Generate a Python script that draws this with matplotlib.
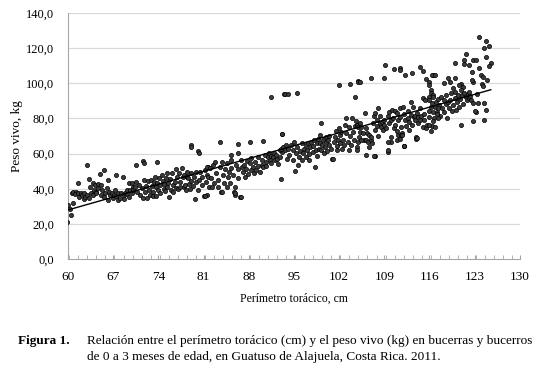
import numpy as np
import matplotlib
matplotlib.use("Agg")
import matplotlib.pyplot as plt
from matplotlib.ticker import MultipleLocator

# ---------------- data ----------------
x_a = [59.8, 60, 60.3, 60.5, 60.8, 60.6, 60.8, 61.2, 61.1, 61.5, 61.6, 61.7, 62, 62.2, 62.4, 62.5,
       62.6, 62.9, 62.9, 63.2, 63.3, 63.4, 63.6, 63.8, 63.9, 64.1, 64.2, 64.3, 64.4, 64.6, 64.7, 65,
       65.1, 65.1, 65.2, 65.5, 65.6, 65.7, 66, 66.2, 66.2, 66.3, 66.5, 66.8, 67, 67.2, 67.3, 67.4,
       67.5, 67.7, 67.8, 68.1, 68.2, 68.5, 68.6, 68.7, 68.8, 69.1, 69.2, 69.4, 69.5, 69.6, 69.9, 70.1]
y_a = [21.2, 31, 28.4, 25, 32, 37.3, 37.9, 38.3, 36.8, 43, 37.3, 35.4, 37.7, 36.4, 33.9, 37.3,
       35.4, 53.5, 36.4, 35, 45.3, 41.1, 37.7, 43.4, 36.4, 39.2, 42.1, 38.3, 37.3, 40.2, 42.7, 48.2,
       42.1, 36.4, 39.2, 35.4, 50.6, 37.3, 40.2, 44.9, 33.5, 38.3, 36.4, 37.7, 34.5, 36.4, 39.2, 47.8,
       35.8, 33.5, 37.3, 35, 37.7, 46.8, 36.4, 33.9, 37.3, 39.2, 36.9, 43, 35.4, 39.2, 37.3, 41.1]

x_b = [70.6, 71.6, 71.7, 73.8, 79, 79.1, 80.2, 80.3, 69.9, 70.1, 70.4, 70.6, 70.7, 71, 71.1, 71.4,
       71.6, 71.8, 71.9, 72.1, 72.2, 72.4, 72.6, 72.7, 72.8, 73, 73.1, 73.2, 73.3, 73.5, 73.6, 73.7,
       73.8, 74, 74.1, 74.2, 74.3, 74.5, 74.7, 74.8, 74.9, 75, 75.2, 75.3, 75.4, 75.5, 75.7, 75.8,
       75.9, 76.1, 76.2, 76.3, 76.6, 76.7, 76.8, 76.9, 77.1, 77.2, 77.3, 77.4, 77.6, 77.8, 77.9, 78,
       78.1, 78.3, 78.4, 78.5, 78.6, 78.8, 78.9, 79, 79.1, 79.3, 79.5, 79.7, 79.8, 79.9, 80.2, 80.3,
       80.5, 80.7, 80.8, 81.1, 81.2, 81.4, 81.5, 81.7, 81.9]
y_b = [53.5, 56, 54.4, 55, 64.9, 63.5, 61.6, 60.5, 43, 39.3, 41.2, 44, 38.3, 42.1, 36.4, 40.2,
       34.5, 45, 38.3, 41.5, 34.5, 44.6, 39.3, 36.4, 45, 41.5, 38.3, 35.8, 44, 46.9, 40.8, 35.8,
       43.4, 39.3, 45.9, 42.1, 37.7, 47.8, 44.6, 39.6, 42.7, 38.9, 45.9, 40.8, 48.7, 43, 35.1, 45.3,
       39.3, 48.7, 42.1, 38.3, 44, 40.2, 51, 46.9, 39.6, 49.1, 44, 40.8, 51.6, 46.9, 40.8, 47.8,
       42.1, 39.3, 46.9, 49.7, 45.9, 42.7, 39.6, 48.7, 44.6, 41.5, 46.9, 34, 44, 49.7, 39.3, 45,
       49.7, 42.1, 46.9, 35.8, 50.6, 44, 47.8, 52.5, 40.8]

x_c = [91.4, 93.5, 83.5, 86.4, 88.2, 90.2, 93.2, 85.3, 86.3, 81.5, 81.5, 81.7, 82, 82.2, 82.3, 82.5,
       82.6, 82.7, 83, 83.2, 83.3, 83.5, 83.7, 83.8, 84, 84.2, 84.3, 84.6, 84.7, 84.8, 84.9, 85.1,
       85.2, 85.3, 85.6, 85.7, 85.8, 85.9, 86.1, 86.3, 86.4, 86.6, 86.8, 86.9, 87.1, 87.3, 87.4, 87.6,
       87.8, 87.9, 88.2, 88.3, 88.4, 88.7, 88.8, 88.9, 89.2, 89.4, 89.5, 89.7, 90, 90.1, 90.2, 90.5,
       90.6, 90.7, 91, 91.1, 91.3, 91.4, 91.5, 91.8, 91.9, 92, 92.3, 92.4, 92.6, 92.8, 93, 93.1,
       81.2, 86.8, 83.8, 85.9]
y_c = [92.4, 93.9, 66.8, 65.3, 66.4, 67.2, 71.2, 59.2, 60.5, 52.6, 36.4, 46.9, 51.6, 45.9, 40.8, 53.5,
       43.1, 55.4, 49.1, 41.2, 45, 52.2, 38.3, 55.4, 47.8, 43.1, 51, 41.2, 54.5, 46.9, 49.7, 43.1,
       56.4, 51.6, 47.8, 38.3, 41.2, 36.4, 53.5, 45.9, 51, 35.1, 56.4, 52.2, 49.7, 53.5, 46.9, 51,
       56, 48.4, 54.5, 50.6, 57.3, 52.2, 48.8, 55.4, 50.6, 57.9, 52.9, 49.7, 56.4, 53.5, 52.2, 59.2,
       55.4, 52.9, 57.9, 60.2, 56.4, 58.6, 54.5, 57.9, 60.5, 56.4, 59.2, 56.7, 54.1, 58.3, 45.3, 61.1,
       36, 35.5, 38, 37.4]

x_d = [93.6, 94.1, 95.5, 102, 103.7, 104.9, 104.4, 99.2, 93.2, 92.8, 93, 93.3, 93.6, 93.7, 93.9, 94.1,
       94.3, 94.6, 94.8, 94.9, 95, 95.1, 95.3, 95.5, 95.6, 95.8, 96, 96.2, 96.3, 96.4, 96.5, 96.8,
       96.9, 97, 97.2, 97.3, 97.4, 97.5, 97.7, 97.9, 98, 98.1, 98.2, 98.4, 98.5, 98.6, 98.7, 98.9,
       99, 99.1, 99.2, 99.4, 99.5, 99.6, 99.8, 99.9, 100, 100.1, 100.3, 100.4, 100.5, 100.8, 100.9, 101.1,
       101.2, 101.3, 101.5, 101.6, 101.7, 101.8, 102, 102.1, 102.2, 102.3, 102.5, 102.6, 102.7, 102.9,
       103, 103.1, 103.4, 103.5, 103.6, 103.7, 103.9, 104, 104.2, 104.3, 104.4, 104.6, 104.7, 104.9,
       105.1, 107.5, 109.6, 110.1]
y_d = [94.2, 94.2, 94.6, 99, 99.9, 101.3, 92, 77.5, 71.1, 62, 62.9, 63.9, 62, 64.8, 57.2, 62.9,
       59.1, 64.8, 56.3, 62, 66.7, 50.2, 60.1, 63.9, 53.4, 58.2, 61.6, 65.8, 56.3, 60.1, 62.9, 64.8,
       58.2, 62, 66.2, 59.7, 56.3, 63.5, 66.7, 61, 64.2, 68, 52.5, 62, 65.8, 58.6, 68.6, 62.9,
       66.2, 70.5, 62, 64.8, 68, 60.1, 63.9, 69.6, 66.7, 61.6, 67.7, 64.8, 69.9, 62.4, 57.2, 57.2,
       66.7, 69.2, 73, 64.2, 62, 68, 74.3, 70.5, 65.8, 72.4, 62.4, 68, 64.8, 76.2,
       80, 71.5, 66.7, 62, 74.9, 70, 64.8, 80, 72.4, 68, 75.6, 78.7, 63.9, 76.2,
       69.2, 58.8, 61.1, 66.8]

x_e = [104.9, 105.3, 106.9, 108.9, 109.1, 110.5, 111.4, 111.5, 112.2, 113.3, 114.6, 115, 116.5, 115.5,
       116, 116.3, 116, 115, 115.3, 104.7, 104.9, 105.2, 105.3, 105.4, 105.7, 105.8, 106, 106.1, 106.2,
       106.4, 106.5, 106.6, 106.7, 106.9, 107, 107.1, 107.2, 107.4, 107.5, 107.6, 107.8, 107.9, 108,
       108.1, 108.3, 108.4, 108.5, 108.6, 108.8, 108.9, 109, 109.3, 109.5, 109.6, 109.7, 109.8, 110,
       110.1, 110.2, 110.3, 110.5, 110.6, 110.7, 110.9, 111, 111.1, 111.2, 111.4, 111.5, 111.6, 111.7,
       111.9, 112, 112.1, 112.2, 112.4, 112.6, 112.7, 112.8, 112.9, 113.1, 113.2, 113.3, 113.4, 113.6,
       113.7, 113.8, 113.9, 114.1, 114.2, 114.3, 114.5, 114.6, 114.7, 115, 115.1, 115.2, 115.5, 115.6,
       115.9, 116, 116.3, 116.4, 116.5, 116.7, 104.7, 104.9, 105.4, 106.2, 107.4, 109.6, 110.9, 111.4,
       111.6, 112.1, 113.9, 114, 112, 111.7]
y_e = [100.9, 100.9, 103.3, 103.3, 110.4, 107.9, 109, 107.5, 104.7, 106, 109.4, 107.1, 104.7, 102.2,
       100.9, 96.5, 92.3, 91.4, 90.4, 76.2, 74.9, 77.2, 72.4, 74.9, 71.5, 68, 83.2, 74.3, 67.7,
       71.8, 66.7, 70.5, 63.9, 68, 69.6, 65.8, 77.2, 81.3, 73.7, 82.9, 79.1, 75.6, 85.7,
       70, 77.2, 81.3, 74.9, 78.1, 73.4, 79.1, 76.2, 74.3, 81.3, 66.7, 77.5, 83.8, 79.1,
       69.6, 84.8, 80, 74.3, 84.4, 76.2, 73, 82.9, 79.1, 70.5, 85.7, 80.6, 75.3, 71.8,
       86.6, 64.3, 82.5, 79.1, 75.6, 84.4, 80, 73.4, 78.1, 89.5, 81.9, 76.2, 86.6, 80.6,
       81.3, 79.1, 69.6, 83.2, 80.6, 77.2, 85.7, 79.4, 81.3, 74.9, 79.1, 82.5, 74.3, 76.2,
       84.4, 81, 86.6, 75.6, 83.8, 80, 62, 66.7, 68, 59.1, 58.6, 62, 67.7, 68.6,
       70.5, 64.3, 68.6, 68.7, 64.3, 70.6]

x_f = [123.6, 124.8, 125.2, 124.4, 121.6, 121.3, 122.8, 123.2, 122.1, 119.9, 121.4, 123.7, 125.5, 125.2,
       124.7, 122.6, 124, 124.3, 124.9, 116.4, 116.9, 118.8, 120, 119.2, 118.3, 120.9, 121.2, 122.8,
       116, 116.3, 116.5, 116, 116.4, 116.6, 116.8, 117, 117.1, 117.3, 117.5, 117.7, 117.8, 118,
       118.2, 118.3, 118.5, 118.6, 118.7, 118.8, 119, 119.2, 119.4, 119.5, 119.6, 119.7, 119.9, 120,
       120.1, 120.2, 120.4, 120.5, 120.6, 120.7, 120.9, 121.1, 121.2, 121.4, 121.6, 121.8, 121.9, 122.1,
       122.2, 122.3, 122.4, 122.6, 122.7, 123.3, 123.5, 124.2, 124.3, 124.5, 124.7, 123.2, 116, 116.3,
       116.5, 116.8, 117.1, 117.4, 117.3, 120.9, 122.8, 123.1, 124.5]
y_f = [126.6, 124.1, 121.4, 119.9, 116.5, 113.3, 113.3, 113.3, 110.4, 111.4, 110.8, 108.9, 111.4, 110,
       115.2, 106.3, 104.7, 103.8, 101.9, 104.7, 104.7, 103.2, 102.8, 100.9, 100, 99.4, 98.1, 100.9,
       99, 94.3, 93.4, 90.5, 88.6, 92.4, 86.7, 89.6, 83.9, 91.1, 87.7, 81.6, 92.4, 85.8,
       90.5, 83.5, 88, 93.4, 80.1, 89.2, 85.8, 90.5, 94.3, 84.2, 97.1, 87.7, 91.8, 95.2,
       84.8, 89.6, 93.4, 99, 86.7, 91.1, 96.2, 93.4, 88, 94.3, 92.4, 90.5, 93.7, 91.8,
       95.2, 93, 90.5, 101.9, 88.6, 93.7, 88.6, 99.4, 98.7, 88.6, 84.8, 83.9, 76.3, 72.9,
       78.6, 75.3, 82.3, 80, 86.1, 76.5, 78.5, 84.3, 79.1]

x_all = np.array(x_a + x_b + x_c + x_d + x_e + x_f)
y_all = np.array(y_a + y_b + y_c + y_d + y_e + y_f)

x_ticks = [60, 67, 74, 81, 88, 95, 102, 109, 116, 123, 130]
y_ticks = [0, 20, 40, 60, 80, 100, 120, 140]
y_tick_labels = ["0,0", "20,0", "40,0", "60,0", "80,0", "100,0", "120,0", "140,0"]

x_label = "Perímetro torácico, cm"
y_label = "Peso vivo, kg"
caption_head = "Figura 1."
caption_body = ("Relación entre el perímetro torácico (cm) y el peso vivo (kg) en bucerras y bucerros\n"
                "de 0 a 3 meses de edad, en Guatuso de Alajuela, Costa Rica. 2011.")

# ---------------- figure ----------------
plt.rcParams["font.family"] = ["Liberation Serif", "DejaVu Serif"]
fig = plt.figure(figsize=(5.45, 3.67), dpi=100)
ax = fig.add_axes([0.1248, 0.2943, 0.829, 0.670])

ax.set_xlim(60, 130)
ax.set_ylim(0, 140)
ax.set_yticks(y_ticks)
ax.set_yticklabels(y_tick_labels)
ax.set_xticks(x_ticks)
ax.xaxis.set_minor_locator(MultipleLocator(1.4))

for yv in y_ticks[1:]:
    ax.axhline(yv, color="#d9d9d9", lw=0.9, zorder=0)

ax.scatter(x_all, y_all, s=9, facecolor="#3c3c3c", edgecolor="black", linewidths=0.5, zorder=3)

coef = np.polyfit(x_all, y_all, 1)
xl = np.array([x_all.min(), x_all.max()])
ax.plot(xl, np.polyval(coef, xl), color="black", lw=1.0, zorder=4)

for s in ["top", "right"]:
    ax.spines[s].set_visible(False)
ax.spines["left"].set_color("#a6a6a6")
ax.spines["bottom"].set_color("#a6a6a6")
ax.tick_params(axis="y", length=0, pad=10, labelsize=9)
ax.tick_params(axis="x", which="both", direction="in", length=3, color="#a6a6a6", pad=9, labelsize=9.5)

ax.set_xlabel(x_label, fontsize=8.5, labelpad=7)
ax.set_ylabel(y_label, fontsize=9.5, labelpad=2)

fig.text(18 / 545, 1 - 341 / 367, caption_head, fontsize=9.5, fontweight="bold", va="center", ha="left")
fig.text(87 / 545, 1 - 349 / 367, caption_body, fontsize=9.5, va="center", ha="left", linespacing=1.45)

fig.savefig("out.png", dpi=100)
